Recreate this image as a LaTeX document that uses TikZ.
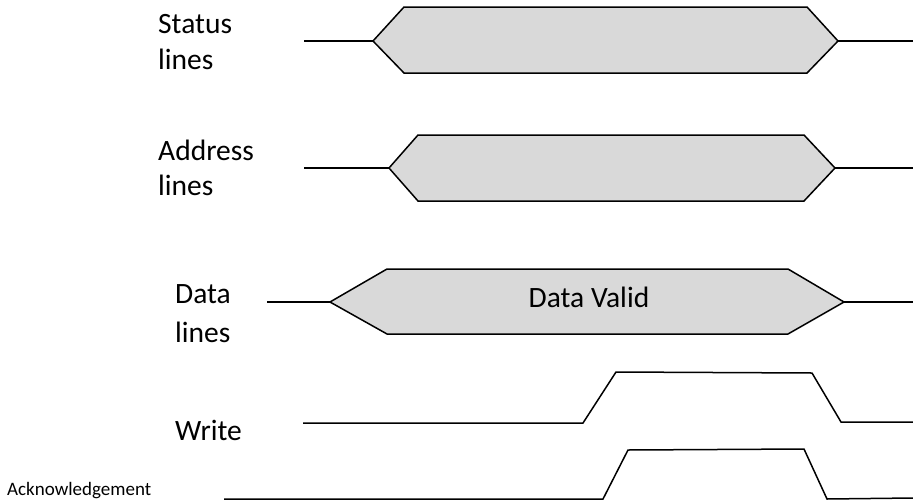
\documentclass[tikz,border=0pt]{standalone}
\usepackage{fontspec}
\setmainfont{Carlito}
\begin{document}
\begin{tikzpicture}[x=1pt,y=-1pt,
  wave/.style={line width=1.5pt, line join=miter},
  bus/.style={wave, fill=black!15},
  lbl/.style={anchor=base west, inner sep=0pt, font=\fontsize{29.5}{35}\selectfont},
  smalllbl/.style={anchor=base west, inner sep=0pt, font=\fontsize{19}{23}\selectfont}]
\useasboundingbox (0,0) rectangle (913,501);
% labels
\node[lbl] (st1) at (158,33) {Status};
\node[lbl] (st2) at (158,69) {lines};
\node[lbl] (ad1) at (158,160) {Address};
\node[lbl] (ad2) at (158,195) {lines};
\node[lbl] (da1) at (175,303) {Data};
\node[lbl] (da2) at (175,342) {lines};
\node[lbl] (wr) at (175,440) {Write};
\node[smalllbl] (ack) at (7,495) {Acknowledgement};
% status
\draw[wave] (304,41) -- (373,41);
\draw[bus] (373,41) -- (404,7) -- (807,7) -- (838,41) -- (807,73) -- (404,73) -- cycle;
\draw[wave] (838,41) -- (913,41);
% address
\draw[wave] (304,168) -- (389,168);
\draw[bus] (389,168) -- (418,135) -- (804,135) -- (835,168) -- (804,201) -- (418,201) -- cycle;
\draw[wave] (835,168) -- (913,168);
% data
\draw[wave] (267,302) -- (330,302);
\draw[bus] (330,302) -- (387,269) -- (788,269) -- (844,302) -- (788,334) -- (387,334) -- cycle;
\draw[wave] (844,302) -- (913,302);
\node[lbl, anchor=base] (dv) at (589,307) {Data Valid};
% write
\draw[wave] (303,423) -- (583,423) -- (616,372) -- (812,373) -- (841,422) -- (913,422);
% acknowledgement
\draw[wave] (224,499) -- (603,499) -- (628,450) -- (804,449) -- (827,499) -- (913,498);
\end{tikzpicture}
\end{document}
